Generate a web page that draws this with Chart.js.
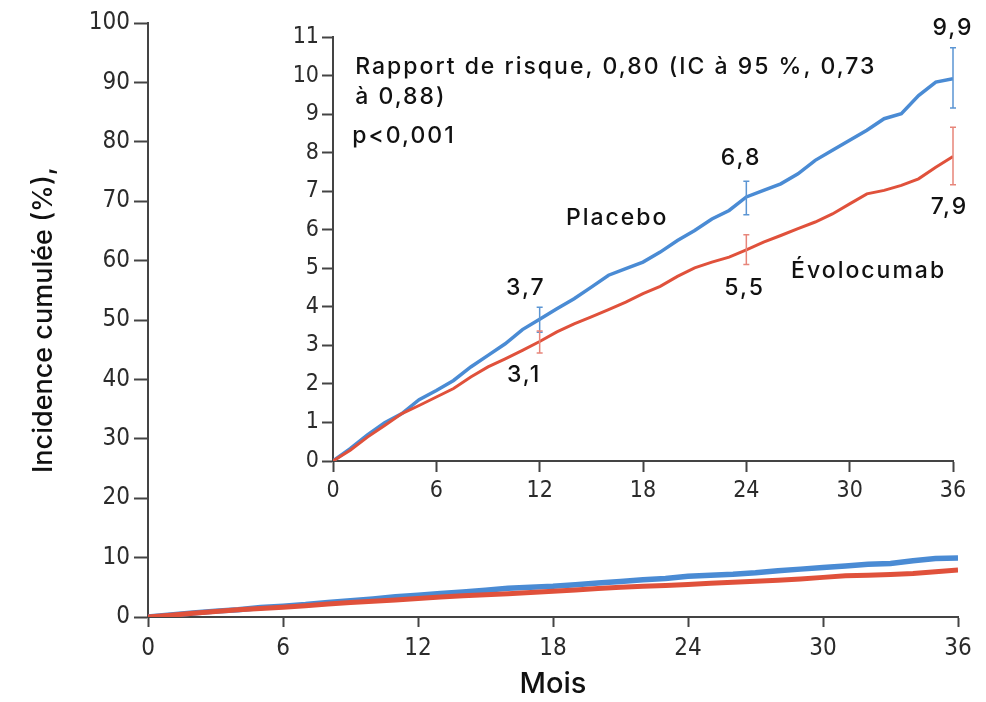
<!DOCTYPE html>
<html>
<head>
<meta charset="utf-8">
<script src="https://cdn.jsdelivr.net/npm/chart.js@4"></script>
<style>
  html, body { margin: 0; padding: 0; background: #fff; }
  #wrap { position: relative; width: 986px; height: 702px; }
  #main { position: absolute; left: 0; top: 0; }
  #inset { position: absolute; left: 280px; top: 10px; }
</style>
</head>
<body>
<div id="wrap">
  <canvas id="main" width="986" height="702"></canvas>
  <canvas id="inset" width="700" height="510"></canvas>
</div>
<script>
// months since randomisation
const months = [0, 1, 2, 3, 4, 5, 6, 7, 8, 9, 10, 11, 12, 13, 14, 15, 16, 17, 18,
  19, 20, 21, 22, 23, 24, 25, 26, 27, 28, 29, 30, 31, 32, 33, 34, 35, 36];
// cumulative incidence (%)
const placebo = [0, 0.32, 0.68, 0.99, 1.23, 1.59, 1.83, 2.09, 2.44, 2.74, 3.04, 3.41, 3.68,
  3.95, 4.21, 4.51, 4.82, 4.99, 5.16, 5.42, 5.72, 5.98, 6.28, 6.50, 6.85,
  7.02, 7.19, 7.45, 7.80, 8.06, 8.32, 8.58, 8.88, 9.01, 9.48, 9.83, 9.92];
const evolocumab = [0, 0.28, 0.62, 0.92, 1.23, 1.44, 1.66, 1.88, 2.18, 2.44, 2.65, 2.87, 3.10,
  3.35, 3.56, 3.74, 3.93, 4.12, 4.34, 4.53, 4.79, 5.01, 5.16, 5.29, 5.48,
  5.68, 5.85, 6.03, 6.20, 6.41, 6.67, 6.93, 7.02, 7.15, 7.32, 7.62, 7.90];

// 95% CI at the landmark months
const ciMonths = [12, 24, 36];
const placeboLow = [3.34, 6.39, 9.16];
const placeboHigh = [3.99, 7.26, 10.72];
const evoLow = [2.80, 5.10, 7.17];
const evoHigh = [3.37, 5.87, 8.66];
const placeboValueLabels = ['3,7', '6,8', '9,9'];
const evoValueLabels = ['3,1', '5,5', '7,9'];

const xTicks = [0, 6, 12, 18, 24, 30, 36];
const mainYTicks = [0, 10, 20, 30, 40, 50, 60, 70, 80, 90, 100];
const insetYTicks = [0, 1, 2, 3, 4, 5, 6, 7, 8, 9, 10, 11];

const blue = '#4a8bd4';
const red = '#e0513b';
const tickFont = '"DejaVu Sans Condensed", "Liberation Sans Narrow", "DejaVu Sans", sans-serif';
const textFont = 'Inter, "Open Sans", sans-serif';
const axisColor = '#444';

function pts(ys) {
  return months.map((m, i) => ({ x: m, y: ys[i] }));
}

function axis(min, max, ticks, size, tickLen, pad, fit) {
  return {
    type: 'linear', min: min, max: max,
    afterBuildTicks: s => { s.ticks = ticks.map(v => ({ value: v })); },
    afterFit: fit,
    ticks: { font: { family: tickFont, size: size }, color: '#2b2b2b', padding: pad, maxRotation: 0 },
    grid: { drawOnChartArea: false, drawTicks: true, tickLength: tickLen, tickColor: axisColor, tickWidth: 2 },
    border: { display: true, color: axisColor, width: 2 }
  };
}

// main chart
const mainX = axis(0, 36, xTicks, 24, 10, 7, s => { s.height = 85; });
mainX.title = { display: true, text: 'Mois', color: '#111', font: { family: textFont, size: 29, weight: '500' }, padding: 0 };
const mainY = axis(0, 100, mainYTicks, 24, 14, 4, s => { s.width = 148; });
mainY.title = { display: true, text: 'Incidence cumulée (%),', color: '#111', font: { family: textFont, size: 27, weight: '500' }, padding: { top: 28 } };

new Chart(document.getElementById('main'), {
  type: 'line',
  data: {
    datasets: [
      { label: 'Placebo', data: pts(placebo), borderColor: blue, borderWidth: 5.5, pointRadius: 0, order: 1 },
      { label: 'Évolocumab', data: pts(evolocumab), borderColor: red, borderWidth: 5, pointRadius: 0, order: 0 }
    ]
  },
  options: {
    responsive: false,
    animation: false,
    layout: { padding: { left: 0, right: 28, top: 23, bottom: 0 } },
    plugins: { legend: { display: false }, tooltip: { enabled: false } },
    scales: { x: mainX, y: mainY }
  }
});

// inset: error bars and text
const errorBars = {
  id: 'errorBars',
  afterDatasetsDraw(chart) {
    const { ctx, scales: { x, y } } = chart;
    [[placeboLow, placeboHigh, '#5b95d3'], [evoLow, evoHigh, '#e7857a']].forEach(([lo, hi, c]) => {
      ctx.save();
      ctx.strokeStyle = c;
      ctx.lineWidth = 1.5;
      ciMonths.forEach((m, i) => {
        const px = x.getPixelForValue(m);
        const y1 = y.getPixelForValue(lo[i]);
        const y2 = y.getPixelForValue(hi[i]);
        ctx.beginPath();
        ctx.moveTo(px, y1); ctx.lineTo(px, y2);
        ctx.moveTo(px - 3, y1); ctx.lineTo(px + 3, y1);
        ctx.moveTo(px - 3, y2); ctx.lineTo(px + 3, y2);
        ctx.stroke();
      });
      ctx.restore();
    });
  }
};

const notes = [
  { t: placeboValueLabels[0], x: 11.2, y: 4.48, a: 'center' },
  { t: evoValueLabels[0], x: 11.1, y: 2.22, a: 'center' },
  { t: placeboValueLabels[1], x: 23.7, y: 7.87, a: 'center' },
  { t: evoValueLabels[1], x: 23.9, y: 4.48, a: 'center' },
  { t: placeboValueLabels[2], x: 36, y: 11.24, a: 'center' },
  { t: evoValueLabels[2], x: 35.8, y: 6.6, a: 'center' },
  { t: 'Placebo', x: 16.5, y: 6.31, a: 'center' },
  { t: 'Évolocumab', x: 31.1, y: 4.94, a: 'center' },
  { t: 'Rapport de risque, 0,80 (IC à 95 %, 0,73', x: 1.29, y: 10.23, a: 'left' },
  { t: 'à 0,88)', x: 1.29, y: 9.43, a: 'left' },
  { t: 'p<0,001', x: 1.12, y: 8.42, a: 'left' }
];

const textNotes = {
  id: 'textNotes',
  afterDraw(chart) {
    const { ctx, scales: { x, y } } = chart;
    ctx.save();
    ctx.fillStyle = '#111';
    ctx.font = '500 23px ' + textFont;
    ctx.letterSpacing = '2px';
    ctx.textBaseline = 'middle';
    notes.forEach(n => {
      ctx.textAlign = n.a;
      ctx.fillText(n.t, x.getPixelForValue(n.x), y.getPixelForValue(n.y));
    });
    ctx.restore();
  }
};

new Chart(document.getElementById('inset'), {
  type: 'line',
  data: {
    datasets: [
      { label: 'Placebo', data: pts(placebo), borderColor: blue, borderWidth: 3.5, pointRadius: 0, order: 1 },
      { label: 'Évolocumab', data: pts(evolocumab), borderColor: red, borderWidth: 3, pointRadius: 0, order: 0 }
    ]
  },
  options: {
    responsive: false,
    animation: false,
    layout: { padding: { left: 0, right: 27, top: 27, bottom: 0 } },
    plugins: { legend: { display: false }, tooltip: { enabled: false } },
    scales: {
      x: axis(0, 36, xTicks, 23, 11, 5, s => { s.height = 59; }),
      y: axis(0, 11, insetYTicks, 23, 11, 3, s => { s.width = 53; })
    }
  },
  plugins: [errorBars, textNotes]
});
</script>
</body>
</html>
